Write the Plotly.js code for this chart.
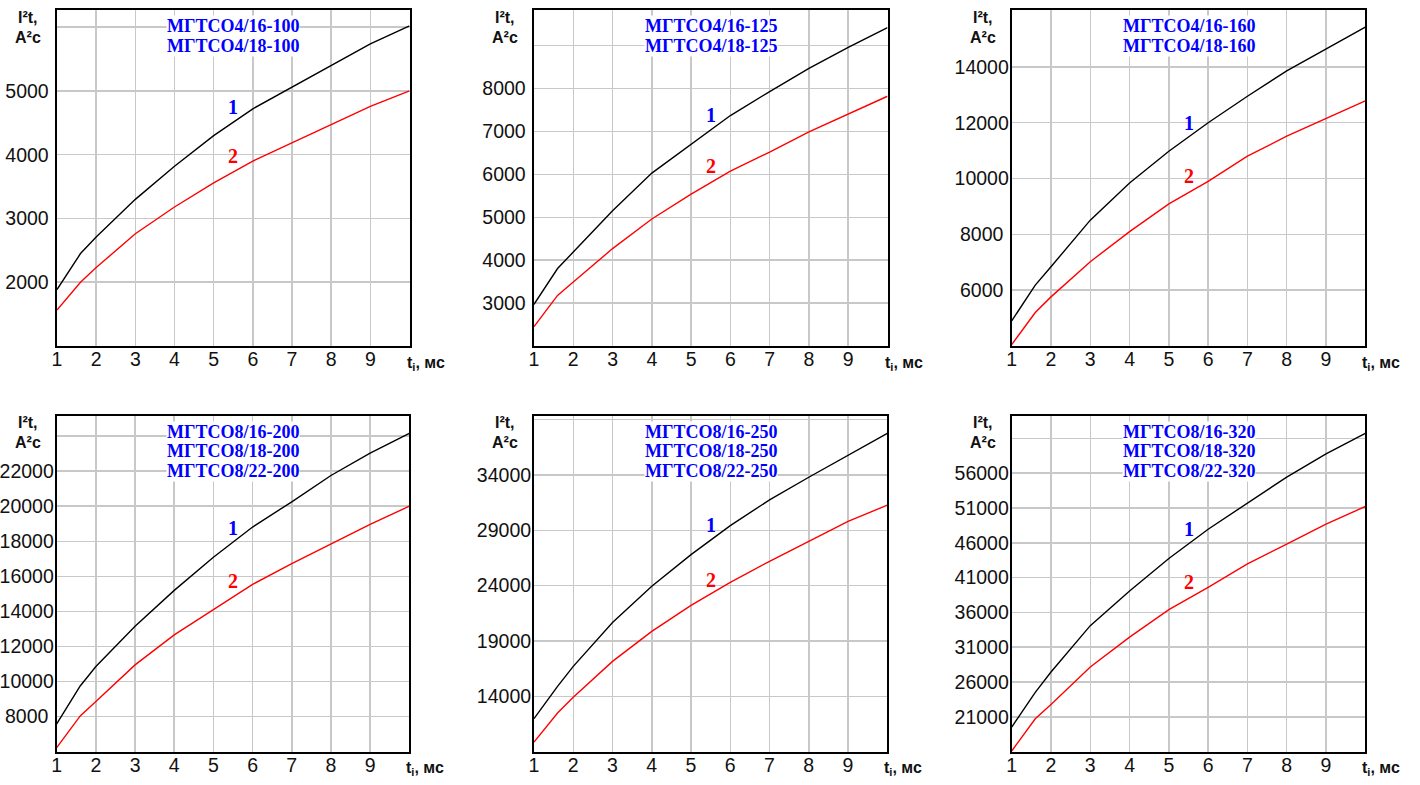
<!DOCTYPE html>
<html>
<head>
<meta charset="utf-8">
<script src="https://cdn.plot.ly/plotly-3.0.1.min.js"></script>
<style>
html,body{margin:0;padding:0;background:#fff;}
#chart{width:1420px;height:785px;}
</style>
</head>
<body>
<div id="chart"></div>
<script>
// ---------- data ----------
var tValues = [1, 1.6, 2, 3, 4, 5, 6, 7, 8, 9, 10];
var xTickVals = [1, 2, 3, 4, 5, 6, 7, 8, 9];
var xTickLabels = ['1', '2', '3', '4', '5', '6', '7', '8', '9'];

var titles1 = ['МГТСО4/16-100', 'МГТСО4/18-100'];
var titles2 = ['МГТСО4/16-125', 'МГТСО4/18-125'];
var titles3 = ['МГТСО4/16-160', 'МГТСО4/18-160'];
var titles4 = ['МГТСО8/16-200', 'МГТСО8/18-200', 'МГТСО8/22-200'];
var titles5 = ['МГТСО8/16-250', 'МГТСО8/18-250', 'МГТСО8/22-250'];
var titles6 = ['МГТСО8/16-320', 'МГТСО8/18-320', 'МГТСО8/22-320'];

var curve1_p1 = [1885, 2450, 2710, 3300, 3820, 4300, 4720, 5060, 5400, 5740, 6020];
var curve2_p1 = [1565, 2000, 2230, 2760, 3180, 3560, 3900, 4190, 4480, 4760, 5000];
var curve1_p2 = [2970, 3805, 4190, 5150, 6030, 6710, 7370, 7930, 8470, 8960, 9420];
var curve2_p2 = [2450, 3180, 3490, 4270, 4960, 5540, 6075, 6520, 6990, 7400, 7820];
var curve1_p3 = [4900, 6180, 6840, 8510, 9840, 10980, 12000, 12950, 13860, 14660, 15430];
var curve2_p3 = [4050, 5200, 5760, 7020, 8100, 9090, 9900, 10800, 11520, 12140, 12780];
var curve1_p4 = [7580, 9750, 10860, 13160, 15200, 17090, 18810, 20250, 21750, 23030, 24150];
var curve2_p4 = [6230, 8040, 8860, 10950, 12660, 14090, 15540, 16720, 17850, 18960, 20000];
var curve1_p5 = [11980, 14900, 16710, 20660, 23940, 26800, 29420, 31750, 33790, 35800, 37760];
var curve2_p5 = [9870, 12500, 13910, 17160, 19870, 22220, 24300, 26200, 28000, 29800, 31270];
var curve1_p6 = [19520, 24530, 27440, 34100, 39080, 43740, 47950, 51750, 55430, 58760, 61710];
var curve2_p6 = [16100, 20720, 22790, 28160, 32450, 36410, 39600, 42960, 45810, 48690, 51210];

var yTicks1 = [2000, 3000, 4000, 5000];
var yLabels1 = ['2000', '3000', '4000', '5000'];
var yExtraGrid1 = [6000];
var yTicks2 = [3000, 4000, 5000, 6000, 7000, 8000];
var yLabels2 = ['3000', '4000', '5000', '6000', '7000', '8000'];
var yExtraGrid2 = [9000];
var yTicks3 = [6000, 8000, 10000, 12000, 14000];
var yLabels3 = ['6000', '8000', '10000', '12000', '14000'];
var yExtraGrid3 = [];
var yTicks4 = [8000, 10000, 12000, 14000, 16000, 18000, 20000, 22000];
var yLabels4 = ['8000', '10000', '12000', '14000', '16000', '18000', '20000', '22000'];
var yExtraGrid4 = [24000];
var yTicks5 = [14000, 19000, 24000, 29000, 34000];
var yLabels5 = ['14000', '19000', '24000', '29000', '34000'];
var yExtraGrid5 = [39000];
var yTicks6 = [21000, 26000, 31000, 36000, 41000, 46000, 51000, 56000];
var yLabels6 = ['21000', '26000', '31000', '36000', '41000', '46000', '51000', '56000'];
var yExtraGrid6 = [61000];

var label1Y = [4743, 7373, 11990, 18770, 29450, 48050];
var label2Y = [3985, 6188, 10080, 15730, 24540, 40430];
var curveLabels = ['1', '2'];
var yTitleLines = ['I²t,', 'A²c'];
var xTitle = 't<sub>i</sub>, мс';

// ---------- layout geometry ----------
var W = 1420, H = 785;
var panels = [
  {c1: curve1_p1, c2: curve2_p1, ticks: yTicks1, labels: yLabels1, extra: yExtraGrid1, range: [1000, 6270], titles: titles1, box: [57, 409.5, 10, 346]},
  {c1: curve1_p2, c2: curve2_p2, ticks: yTicks2, labels: yLabels2, extra: yExtraGrid2, range: [2000, 9830], titles: titles2, box: [534, 887.5, 10, 346]},
  {c1: curve1_p3, c2: curve2_p3, ticks: yTicks3, labels: yLabels3, extra: yExtraGrid3, range: [4000, 16040], titles: titles3, box: [1011.7, 1365.3, 10, 346]},
  {c1: curve1_p4, c2: curve2_p4, ticks: yTicks4, labels: yLabels4, extra: yExtraGrid4, range: [6000, 25160], titles: titles4, box: [56.7, 409.3, 415.7, 751.7]},
  {c1: curve1_p5, c2: curve2_p5, ticks: yTicks5, labels: yLabels5, extra: yExtraGrid5, range: [9000, 39350], titles: titles5, box: [534, 887.3, 415.7, 751.7]},
  {c1: curve1_p6, c2: curve2_p6, ticks: yTicks6, labels: yLabels6, extra: yExtraGrid6, range: [16000, 64250], titles: titles6, box: [1011.7, 1365.3, 415.7, 751.7]}
];

var sans = 'Liberation Sans, Arial, sans-serif';
var serif = 'Liberation Serif, Times New Roman, serif';
var gridColor = '#c8c8c8';

function pad5(s) {
  var out = s;
  for (var i = s.length; i < 5; i++) out += '\u00A0';
  return out;
}

var data = [];
var layout = {
  width: W, height: H,
  margin: {l: 0, r: 0, t: 0, b: 0, pad: 0},
  paper_bgcolor: '#ffffff',
  plot_bgcolor: '#ffffff',
  showlegend: false,
  annotations: []
};

panels.forEach(function (p, i) {
  var n = i + 1;
  var xa = 'x' + (n === 1 ? '' : n);
  var ya = 'y' + (n === 1 ? '' : n);
  data.push({x: tValues, y: p.c1, xaxis: xa, yaxis: ya, mode: 'lines', type: 'scatter',
             line: {color: '#000000', width: 1.4}, hoverinfo: 'skip'});
  data.push({x: tValues, y: p.c2, xaxis: xa, yaxis: ya, mode: 'lines', type: 'scatter',
             line: {color: '#ff0000', width: 1.4}, hoverinfo: 'skip'});

  var b = p.box;
  layout['xaxis' + (n === 1 ? '' : n)] = {
    domain: [b[0] / W, b[1] / W], anchor: ya, range: [1, 10],
    tickmode: 'array', tickvals: xTickVals, ticktext: xTickLabels,
    showgrid: true, gridcolor: gridColor, gridwidth: 1.5,
    showline: true, mirror: true, linecolor: '#000000', linewidth: 2,
    zeroline: false, ticks: '', ticklabelstandoff: -5,
    tickfont: {family: sans, size: 19.5, color: '#111111'}, fixedrange: true
  };
  var yax = {
    domain: [1 - b[3] / H, 1 - b[2] / H], anchor: xa, range: p.range,
    tickmode: 'array', tickvals: p.ticks, ticktext: p.labels.map(pad5),
    showgrid: true, gridcolor: gridColor, gridwidth: 1.5,
    showline: true, mirror: true, linecolor: '#000000', linewidth: 2,
    zeroline: false, ticks: '', ticklabelstandoff: -3,
    tickfont: {family: sans, size: 19.5, color: '#111111'}, fixedrange: true
  };
  if (p.extra.length) {
    yax.minor = {tickmode: 'array', tickvals: p.extra, showgrid: true,
                 gridcolor: gridColor, gridwidth: 1.5, ticks: ''};
  }
  layout['yaxis' + (n === 1 ? '' : n)] = yax;

  p.titles.forEach(function (t, k) {
    layout.annotations.push({
      text: '<b>' + t + '</b>', xref: xa, x: 5.5, yref: ya + ' domain',
      y: 1, yshift: -(15.8 + 19.8 * k), xanchor: 'center', yanchor: 'middle',
      showarrow: false, bgcolor: '#ffffff', borderpad: 0,
      font: {family: serif, size: 18, color: '#0000ff'}
    });
  });

  layout.annotations.push({
    text: '<b>' + curveLabels[0] + '</b>', xref: xa, x: 5.5, yref: ya, y: label1Y[i],
    showarrow: false, xanchor: 'center', yanchor: 'middle',
    font: {family: serif, size: 20, color: '#0000ff'}
  });
  layout.annotations.push({
    text: '<b>' + curveLabels[1] + '</b>', xref: xa, x: 5.5, yref: ya, y: label2Y[i],
    showarrow: false, xanchor: 'center', yanchor: 'middle',
    font: {family: serif, size: 20, color: '#ff0000'}
  });

  yTitleLines.forEach(function (t, k) {
    layout.annotations.push({
      text: '<b>' + t + '</b>', xref: xa + ' domain', x: 0, xshift: -29,
      yref: ya + ' domain', y: 1, yshift: -(7 + 20 * k),
      xanchor: 'center', yanchor: 'middle', showarrow: false,
      font: {family: sans, size: 16, color: '#111111'}
    });
  });

  layout.annotations.push({
    text: '<b>' + xTitle + '</b>', xref: xa + ' domain', x: 1, xshift: -5,
    yref: ya + ' domain', y: 0, yshift: -17,
    xanchor: 'left', yanchor: 'middle', showarrow: false,
    font: {family: sans, size: 16, color: '#111111'}
  });
});

Plotly.newPlot('chart', data, layout, {staticPlot: true, displayModeBar: false});
</script>
</body>
</html>
